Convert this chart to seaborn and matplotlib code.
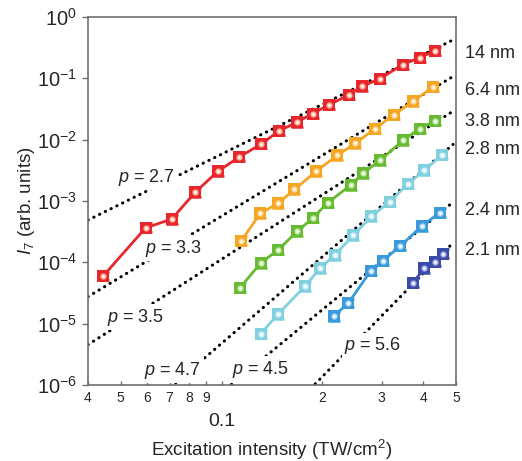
import numpy as np
import pandas as pd
import matplotlib
matplotlib.use("Agg")
import matplotlib.pyplot as plt
import matplotlib.transforms as mtransforms
import seaborn as sns

# ---- measured third-harmonic (I7) yield vs excitation intensity ----
labels = ["14 nm", "6.4 nm", "3.8 nm", "2.8 nm", "2.4 nm", "2.1 nm"]

x_14 = [0.0444, 0.0594, 0.0710, 0.0835, 0.0974, 0.1131, 0.1314, 0.1485, 0.1678,
        0.187, 0.2088, 0.2406, 0.2628, 0.2974, 0.3468, 0.3899, 0.4316]
y_14 = [6.0e-5, 3.65e-4, 5.06e-4, 1.39e-3, 3.03e-3, 5.24e-3, 8.5e-3, 1.39e-2, 1.92e-2,
        2.67e-2, 3.68e-2, 5.44e-2, 7.43e-2, 9.91e-2, 0.168, 0.218, 0.279]

x_64 = [0.1145, 0.1305, 0.1472, 0.165, 0.1913, 0.2211, 0.2503, 0.2859, 0.327, 0.3726, 0.4277]
y_64 = [2.24e-4, 6.27e-4, 9.12e-4, 1.54e-3, 3.04e-3, 5.54e-3, 8.66e-3, 1.50e-2, 2.57e-2,
        4.23e-2, 7.24e-2]

x_38 = [0.1134, 0.1308, 0.1475, 0.1681, 0.1876, 0.2074, 0.2426, 0.2636, 0.2974,
        0.3478, 0.3899, 0.4316]
y_38 = [3.83e-5, 9.71e-5, 1.60e-4, 3.20e-4, 5.35e-4, 9.40e-4, 1.81e-3, 2.81e-3, 4.63e-3,
        9.80e-3, 1.52e-2, 2.02e-2]

x_28 = [0.1307, 0.1472, 0.1771, 0.1966, 0.2173, 0.2474, 0.2799, 0.3168, 0.3602, 0.4017, 0.4551]
y_28 = [6.77e-6, 1.42e-5, 4.05e-5, 7.96e-5, 1.31e-4, 2.78e-4, 5.62e-4, 9.68e-4, 1.92e-3,
        3.16e-3, 5.65e-3]

x_24 = [0.2158, 0.239, 0.2782, 0.3031, 0.3413, 0.395, 0.4473]
y_24 = [1.32e-5, 2.17e-5, 7.22e-5, 1.07e-4, 1.85e-4, 3.89e-4, 6.46e-4]

x_21 = [0.3729, 0.4014, 0.4329, 0.4575]
y_21 = [4.67e-5, 7.96e-5, 1.02e-4, 1.38e-4]

# relative uncertainty of each point (multiplicative)
err_factor = 1.18

# power-law fits I7 = A * I^p, A given as the value at I = 0.1 TW/cm^2
fit_p = [2.7, 3.3, 3.5, 4.7, 4.5, 5.6]
fit_at_01 = [5.8e-3, 5.66e-4, 1.12e-4, 4.76e-6, 7.5e-7, 2.84e-8]
fit_label_x = [0.0492, 0.0593, 0.0456, 0.0589, 0.1072, 0.232]
fit_label_y = [2.45e-3, 1.71e-4, 1.28e-5, 1.75e-6, 1.82e-6, 4.36e-6]

colors = ["#E8262B", "#F5A623", "#66BB33", "#80D0E0", "#3A9BDC", "#3B4CA8"]
light = ["#F9B59A", "#FCD99A", "#C6E8A8", "#D2F0F6", "#B5DAF4", "#A9B3E6"]

xs = [x_14, x_64, x_38, x_28, x_24, x_21]
ys = [y_14, y_64, y_38, y_28, y_24, y_21]

df = pd.concat(
    [pd.DataFrame({"I": x, "I7": y, "size": lab}) for x, y, lab in zip(xs, ys, labels)],
    ignore_index=True,
)

sns.set_theme(style="white")
plt.rcParams["font.family"] = ["Liberation Sans", "DejaVu Sans"]
plt.rcParams["mathtext.fontset"] = "custom"
plt.rcParams["mathtext.rm"] = "Liberation Sans"
plt.rcParams["mathtext.it"] = "Liberation Sans:italic"

fig = plt.figure(figsize=(5.22, 4.61), dpi=100)
ax = fig.add_axes([88 / 522, 1 - 385 / 461, 368 / 522, 368 / 461])
ax.set_xscale("log")
ax.set_yscale("log")
ax.set_xlim(0.04, 0.5)
ax.set_ylim(1e-6, 1)

# dotted power-law guides
xf = np.array([0.04, 0.49])
fit_rows = []
for k, (p, a) in enumerate(zip(fit_p, fit_at_01)):
    for xv in xf:
        fit_rows.append({"I": xv, "I7": a * (xv / 0.1) ** p, "fit": k})
fit_df = pd.DataFrame(fit_rows)
for k in range(len(fit_p)):
    sub = fit_df[fit_df["fit"] == k]
    ax.plot(sub["I"], sub["I7"], color="black", lw=2.2,
            linestyle=(0, (0.1, 2.0)), dash_capstyle="round", zorder=2)

for k, p in enumerate(fit_p):
    ax.text(fit_label_x[k], fit_label_y[k], f"$p$ = {p}", fontsize=13,
            ha="left", va="center", zorder=3,
            bbox=dict(facecolor="white", edgecolor="none", pad=1.5))

# data series
sns.lineplot(data=df, x="I", y="I7", hue="size", palette=colors, lw=2.0,
             marker="s", markersize=7, markeredgewidth=0, legend=False,
             sort=False, ax=ax, zorder=4)
for x, y, c, lc in zip(xs, ys, colors, light):
    y = np.asarray(y)
    yerr = np.vstack([y - y / err_factor, y * err_factor - y])
    ax.errorbar(x, y, yerr=yerr, fmt="none", ecolor=c, elinewidth=1.6,
                capsize=4.3, capthick=1.8, zorder=5)
    ax.plot(x, y, ls="none", marker="s", ms=8.5, mfc=c, mec=c, mew=0, zorder=6)
    ax.plot(x, y, ls="none", marker="o", ms=4.5, mfc=lc, mec="none", zorder=7)
    ax.plot(x, y, ls="none", marker="o", ms=2.0, mfc="white", mec="none", zorder=8)

# size labels at the right edge
label_pos = [0.902, 0.800, 0.7155, 0.6386, 0.4736, 0.3668]
trans = mtransforms.blended_transform_factory(ax.transAxes, ax.transAxes)
for lab, yp in zip(labels, label_pos):
    ax.text(1.024, yp, lab, transform=trans, fontsize=13, ha="left", va="center")

# axes styling
for s in ax.spines.values():
    s.set_color("#6f6f6f")
    s.set_linewidth(1.2)

yt = [1e-6, 1e-5, 1e-4, 1e-3, 1e-2, 1e-1, 1]
ax.set_yticks(yt)
ax.set_yticklabels([f"$10^{{{int(np.log10(v))}}}$" for v in yt], fontsize=14.5)
ax.yaxis.set_minor_locator(matplotlib.ticker.NullLocator())
ax.tick_params(axis="y", which="major", direction="out", length=4, width=1,
               color="#6f6f6f", left=True, pad=4)

xt_small = [0.04, 0.05, 0.06, 0.07, 0.08, 0.09, 0.2, 0.3, 0.4, 0.5]
xt_small_lab = ["4", "5", "6", "7", "8", "9", "2", "3", "4", "5"]
ax.set_xticks(xt_small)
ax.set_xticklabels(xt_small_lab, fontsize=10)
ax.set_xticks([0.1], minor=True)
ax.set_xticklabels(["0.1"], minor=True, fontsize=14)
ax.tick_params(axis="x", which="major", direction="in", length=3, width=1,
               color="#6f6f6f", bottom=True, pad=4)
ax.tick_params(axis="x", which="minor", direction="in", length=3, width=1,
               color="#6f6f6f", bottom=True, pad=20)

ax.set_xlabel("Excitation intensity (TW/cm$^{2}$)", fontsize=13.5, labelpad=5.5)
ax.set_ylabel("$I_{7}$ (arb. units)", fontsize=13.5, labelpad=0)

fig.savefig("out.png", dpi=100)
